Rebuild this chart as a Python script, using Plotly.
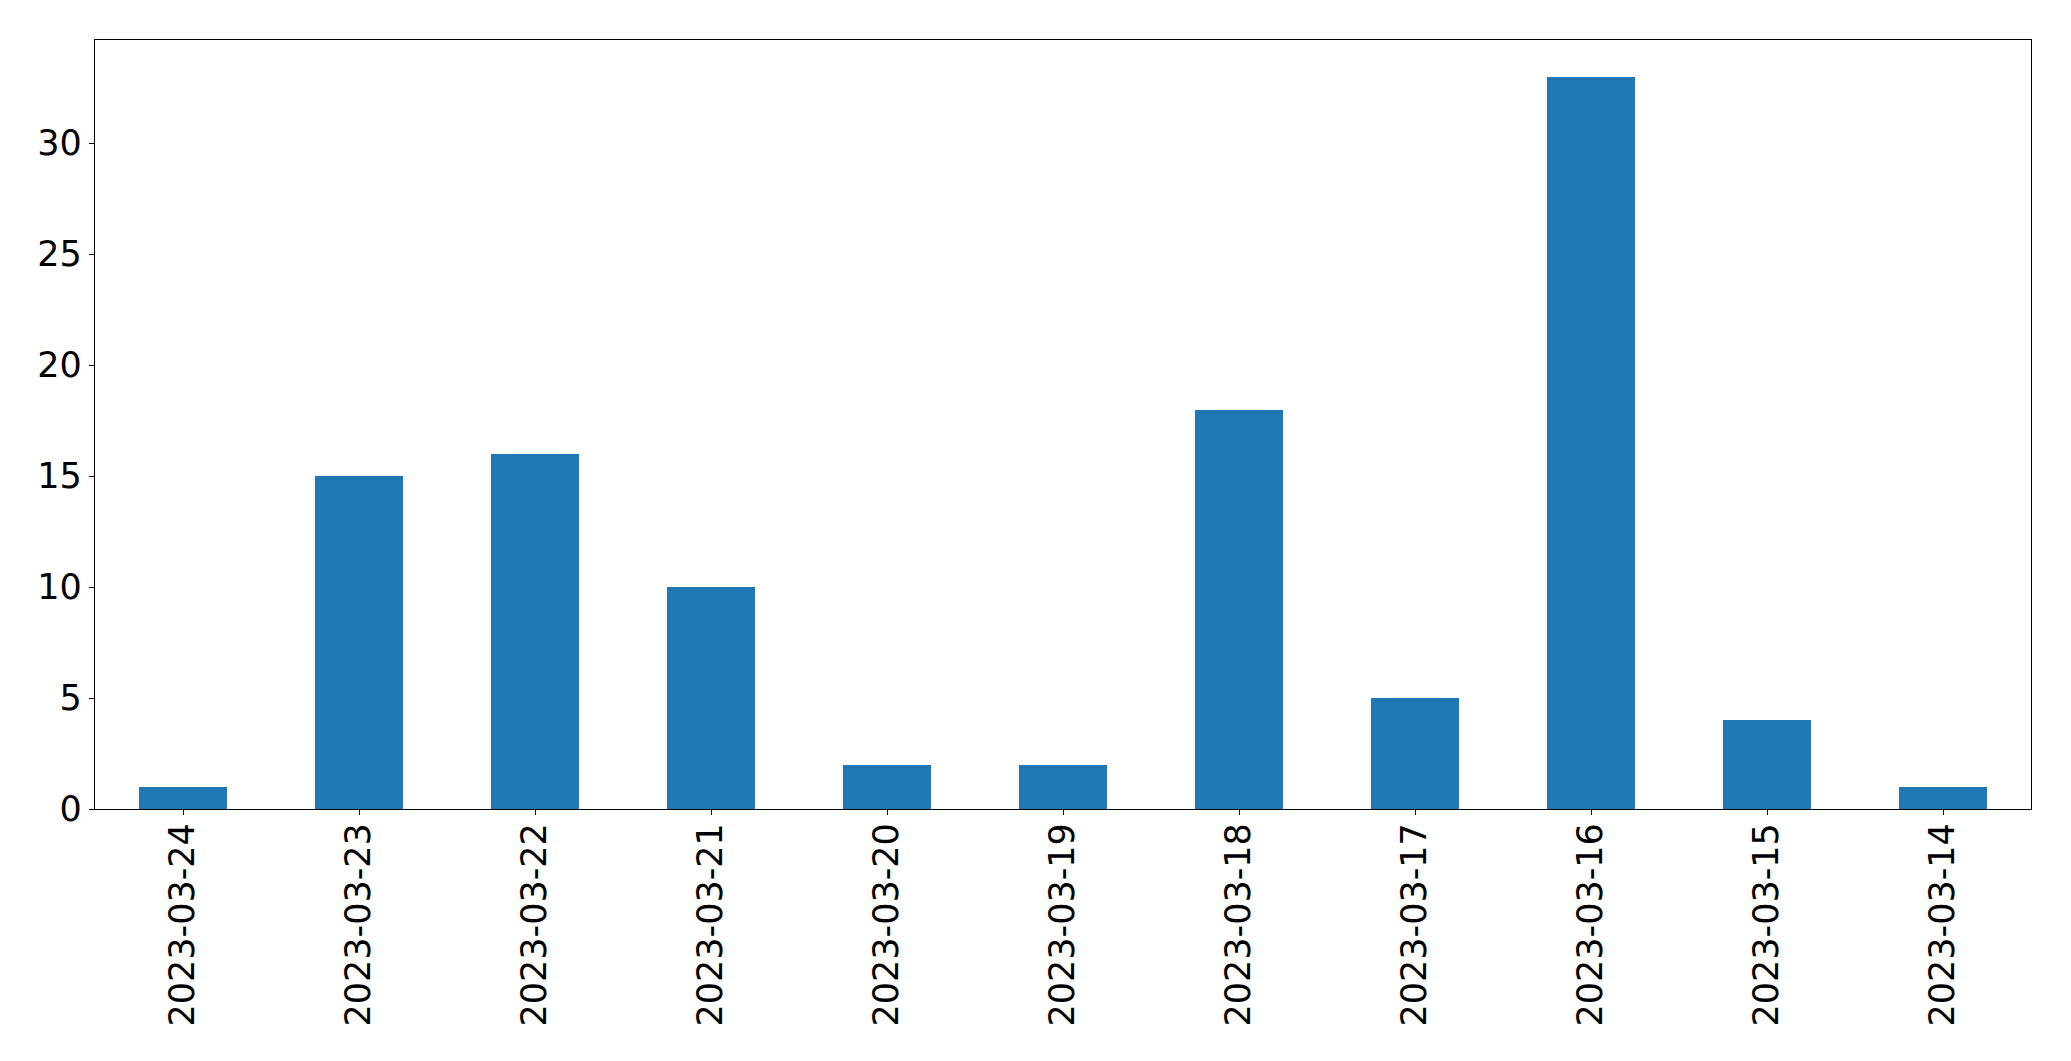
import plotly.graph_objects as go

dates = ["2023-03-24", "2023-03-23", "2023-03-22", "2023-03-21", "2023-03-20", "2023-03-19",
         "2023-03-18", "2023-03-17", "2023-03-16", "2023-03-15", "2023-03-14"]
counts = [1, 15, 16, 10, 2, 2, 18, 5, 33, 4, 1]
ytick_vals = [0, 5, 10, 15, 20, 25, 30]

fig = go.Figure(go.Bar(x=dates, y=counts, width=0.5, marker=dict(color="#1f77b4", line=dict(width=0))))

font = dict(family="DejaVu Sans", size=35, color="black")
fig.update_layout(
    width=2055, height=1045,
    margin=dict(l=86.5, r=31.7, t=31.5, b=244, pad=0),
    paper_bgcolor="white", plot_bgcolor="white",
    showlegend=False,
    font=font,
    bargap=0,
)
fig.update_xaxes(
    type="category", range=[-0.5, 10.5], automargin=False,
    showline=True, linecolor="black", linewidth=1.3, mirror=True,
    ticks="outside", ticklen=5, tickwidth=1.3, tickcolor="black",
    tickangle=-90, tickfont=font, showgrid=False, zeroline=False,
    ticklabelstandoff=-6,
)
fig.update_yaxes(
    range=[0, 34.65], tickvals=ytick_vals, automargin=False,
    showline=True, linecolor="black", linewidth=1.3, mirror=True,
    ticks="outside", ticklen=5, tickwidth=1.3, tickcolor="black",
    tickfont=font, showgrid=False, zeroline=False,
)
fig.write_html("out.html")
